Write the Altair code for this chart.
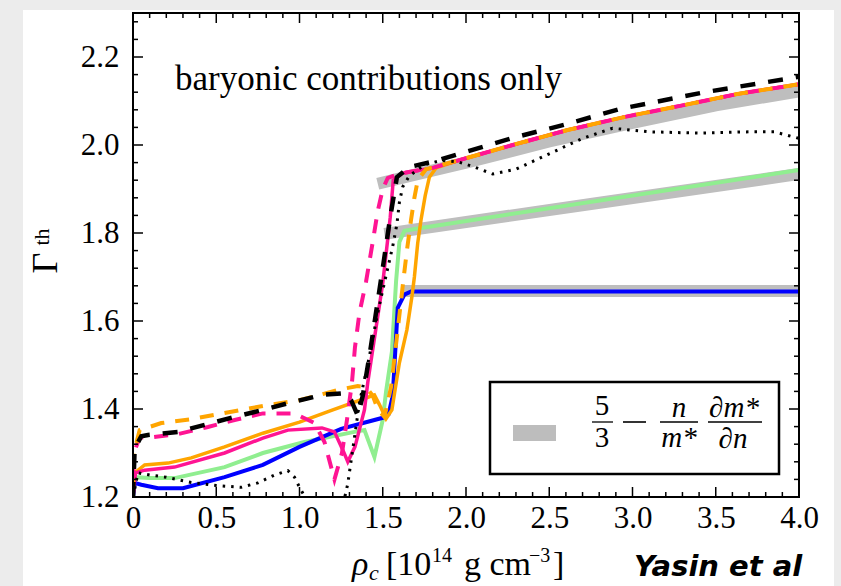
import altair as alt
import pandas as pd

# ---------------- data ----------------
# grey bands: 5/3 - (n/m*) dm*/dn
bandA_x = [1.47, 1.72, 2.0, 2.5, 3.0, 3.5, 4.0]
bandA_y = [1.912, 1.935, 1.96, 2.008, 2.05, 2.09, 2.122]
bandB_x = [1.51, 2.75, 4.0]
bandB_y = [1.798, 1.866, 1.934]
bandC_x = [1.615, 4.0]
bandC_y = [1.668, 1.668]

blue_x = [0.0, 0.01, 0.05, 0.15, 0.3, 0.55, 0.78, 1.0, 1.25, 1.5, 1.535, 1.56, 1.59, 1.63, 1.67, 4.0]
blue_y = [1.20, 1.232, 1.228, 1.220, 1.220, 1.245, 1.273, 1.314, 1.355, 1.38, 1.388, 1.43, 1.63, 1.66, 1.667, 1.667]

green_x = [0.0, 0.015, 0.1, 0.25, 0.55, 0.78, 1.03, 1.33, 1.39, 1.45, 1.50, 1.52, 1.555, 1.58, 1.60, 1.63, 1.72, 4.0]
green_y = [1.20, 1.245, 1.243, 1.243, 1.268, 1.30, 1.325, 1.348, 1.352, 1.291, 1.375, 1.44, 1.53, 1.69, 1.78, 1.805, 1.811, 1.943]

pinkS_x = [0.0, 0.015, 0.07, 0.25, 0.55, 0.78, 0.93, 1.135, 1.21, 1.26, 1.29, 1.333, 1.39, 1.41, 1.50, 1.545, 1.563, 1.62,
           1.80, 2.0, 2.28, 2.61, 2.955, 3.3, 3.63, 4.0]
pinkS_y = [1.20, 1.255, 1.261, 1.268, 1.30, 1.334, 1.352, 1.357, 1.348, 1.307, 1.28, 1.314, 1.398, 1.46, 1.686, 1.836, 1.92, 1.936,
           1.948, 1.97, 2.0, 2.034, 2.064, 2.09, 2.116, 2.138]

pinkD_x = [0.0, 0.005, 0.04, 0.115, 0.27, 0.45, 0.61, 0.78, 0.97, 1.09, 1.15, 1.195, 1.21, 1.255, 1.285, 1.315, 1.333, 1.36,
           1.40, 1.44, 1.47, 1.50, 1.53, 1.60, 1.80, 2.0, 2.28, 2.61, 2.955, 3.3, 3.63, 4.0]
pinkD_y = [1.20, 1.30, 1.335, 1.336, 1.343, 1.359, 1.375, 1.39, 1.39, 1.368, 1.325, 1.261, 1.24, 1.30, 1.375, 1.46, 1.54, 1.618,
           1.69, 1.78, 1.85, 1.90, 1.925, 1.935, 1.948, 1.97, 2.0, 2.034, 2.064, 2.09, 2.116, 2.138]

orS_x = [0.0, 0.01, 0.07, 0.21, 0.35, 0.55, 0.78, 1.0, 1.2, 1.40, 1.45, 1.48, 1.52, 1.555, 1.60, 1.645, 1.675, 1.69, 1.71,
         1.73, 1.755, 1.78, 1.82, 2.0, 2.28, 2.61, 2.955, 3.3, 3.63, 4.0]
orS_y = [1.20, 1.255, 1.273, 1.277, 1.289, 1.314, 1.345, 1.37, 1.398, 1.425, 1.432, 1.41, 1.378, 1.398, 1.505, 1.58, 1.655, 1.70, 1.777,
         1.83, 1.885, 1.927, 1.948, 1.97, 2.0, 2.034, 2.064, 2.09, 2.116, 2.138]

orD_x = [0.0, 0.005, 0.04, 0.17, 0.35, 0.55, 0.78, 1.0, 1.25, 1.35, 1.40, 1.44, 1.47, 1.51, 1.55, 1.59, 1.62, 1.645, 1.67, 1.69,
         1.71, 1.76, 2.0, 2.28, 2.61, 2.955, 3.3, 3.63, 4.0]
orD_y = [1.21, 1.30, 1.352, 1.368, 1.377, 1.391, 1.407, 1.42, 1.445, 1.452, 1.45, 1.43, 1.40, 1.382, 1.45, 1.58, 1.68, 1.76, 1.83, 1.88,
         1.92, 1.945, 1.97, 2.0, 2.034, 2.064, 2.09, 2.116, 2.138]

bkD_x = [0.0, 0.01, 0.05, 0.09, 0.27, 0.45, 0.61, 0.78, 0.93, 1.135, 1.27, 1.31, 1.35, 1.38, 1.42, 1.46, 1.50, 1.545, 1.585, 1.66,
         1.80, 1.96, 2.28, 2.61, 2.925, 3.435, 4.0]
bkD_y = [1.20, 1.31, 1.338, 1.341, 1.348, 1.366, 1.382, 1.398, 1.413, 1.432, 1.436, 1.42, 1.385, 1.43, 1.52, 1.62, 1.72, 1.836, 1.927, 1.95,
         1.962, 1.98, 2.016, 2.048, 2.082, 2.12, 2.155]

bkO_x = [0.0, 0.03, 0.1, 0.2, 0.35, 0.5, 0.65, 0.75, 0.85, 0.93, 0.97, 1.0, 1.04, 1.06, 1.26, 1.29, 1.36, 1.42, 1.465, 1.50, 1.53,
         1.56, 1.585, 1.60, 1.62, 1.66, 1.75, 1.85, 1.95, 2.05, 2.16, 2.3, 2.5, 2.7, 2.88, 3.1, 3.4, 3.7, 3.85, 4.0]
bkO_y = [1.20, 1.255, 1.25, 1.245, 1.233, 1.226, 1.222, 1.232, 1.25, 1.26, 1.245, 1.222, 1.195, 1.18, 1.18, 1.23, 1.414, 1.52, 1.61, 1.67, 1.72,
         1.77, 1.82, 1.87, 1.905, 1.93, 1.955, 1.965, 1.962, 1.95, 1.934, 1.945, 1.98, 2.015, 2.038, 2.03, 2.027, 2.03, 2.03, 2.015]

x_major = [0.0, 0.5, 1.0, 1.5, 2.0, 2.5, 3.0, 3.5, 4.0]
x_minor = [round(0.1 * i, 2) for i in range(41) if i % 5 != 0]
y_major = [1.2, 1.4, 1.6, 1.8, 2.0, 2.2]
y_minor = [round(1.2 + 0.04 * i, 2) for i in range(28) if i % 5 != 0]

# ---------------- chart ----------------
W, H = 666, 484
SERIF = "Liberation Serif"
xs = alt.Scale(domain=[0, 4.0], nice=False, zero=False)
ys = alt.Scale(domain=[1.2, 2.3], nice=False, zero=False)

x_axis = alt.Axis(values=x_major, labelExpr="datum.value == 0 ? '0' : format(datum.value, '.1f')",
                  labelFont=SERIF, labelFontSize=31, labelColor="black", domain=False, ticks=False,
                  grid=False, labelPadding=6, title=None, labelFlush=False, labelOverlap=False, zindex=5)
y_axis = alt.Axis(values=y_major, format=".1f", labelFont=SERIF, labelFontSize=31, labelColor="black",
                  domain=False, ticks=False, grid=False, labelPadding=14, title=None, labelFlush=False,
                  labelOverlap=False, zindex=5)

X = lambda: alt.X("x:Q", scale=xs, axis=x_axis)
Y = lambda: alt.Y("y:Q", scale=ys, axis=y_axis)

one = pd.DataFrame({"a": [0]})


def series(xv, yv, **mk):
    df = pd.DataFrame({"x": xv, "y": yv, "i": list(range(len(xv)))})
    return alt.Chart(df).mark_line(clip=True, **mk).encode(x=X(), y=Y(), order="i:Q")


def box(x1, x2, y1, y2, **mk):
    return alt.Chart(one).mark_rect(**mk).encode(
        x=alt.value(x1), x2=alt.value(x2), y=alt.value(y1), y2=alt.value(y2))


def txt(t, x, y, size, font=SERIF, align="left", baseline="alphabetic", **mk):
    return alt.Chart(one).mark_text(text=t, font=font, fontSize=size, align=align, baseline=baseline,
                                    color="black", **mk).encode(x=alt.value(x), y=alt.value(y))


def hbar(x1, x2, y, w=1.3):
    return alt.Chart(one).mark_rule(color="black", strokeWidth=w).encode(
        x=alt.value(x1), x2=alt.value(x2), y=alt.value(y), y2=alt.value(y))


layers = [box(-110, 701, -3, 573, color="white")]

GREY = "#bebebe"
layers += [series(bandA_x, bandA_y, color=GREY, strokeWidth=12),
           series(bandB_x, bandB_y, color=GREY, strokeWidth=12),
           series(bandC_x, bandC_y, color=GREY, strokeWidth=12)]

layers += [series(green_x, green_y, color="#90ee90", strokeWidth=4),
           series(blue_x, blue_y, color="#0000ff", strokeWidth=4),
           series(orS_x, orS_y, color="#ffa500", strokeWidth=3.5),
           series(pinkS_x, pinkS_y, color="#ff1493", strokeWidth=3.5),
           series(pinkD_x, pinkD_y, color="#ff1493", strokeWidth=4, strokeDash=[14, 11]),
           series(orD_x, orD_y, color="#ffa500", strokeWidth=4, strokeDash=[14, 11]),
           series(bkD_x, bkD_y, color="black", strokeWidth=4.5, strokeDash=[15, 13]),
           series(bkO_x, bkO_y, color="black", strokeWidth=3, strokeDash=[2.5, 6])]

# ticks (inward on all four sides)
def xticks(vals, length):
    df = pd.DataFrame({"x": vals})
    bot = alt.Chart(df).mark_rule(color="black", strokeWidth=1.5).encode(
        x=X(), y=alt.value(H), y2=alt.value(H - length))
    top = alt.Chart(df).mark_rule(color="black", strokeWidth=1.5).encode(
        x=X(), y=alt.value(0), y2=alt.value(length))
    return [bot, top]


def yticks(vals, length):
    df = pd.DataFrame({"y": vals})
    lft = alt.Chart(df).mark_rule(color="black", strokeWidth=1.5).encode(
        y=Y(), x=alt.value(0), x2=alt.value(length))
    rgt = alt.Chart(df).mark_rule(color="black", strokeWidth=1.5).encode(
        y=Y(), x=alt.value(W), x2=alt.value(W - length))
    return [lft, rgt]


layers += xticks(x_major, 10) + xticks(x_minor, 5) + yticks(y_major, 10) + yticks(y_minor, 5)
layers += [box(0, W, 0, H, fillOpacity=0, stroke="black", strokeWidth=2)]

# legend
layers += [box(357, 646, 369, 461, fill="white", stroke="black", strokeWidth=2.5),
           box(380, 423, 412, 428, color="#bdbdbd"),
           txt("5", 469, 402, 29, align="center"), hbar(459, 480, 409), txt("3", 469, 434, 29, align="center"),
           hbar(490, 513, 409, 1.6),
           txt("n", 546, 404, 29, align="center", fontStyle="italic"), hbar(527, 565, 409),
           txt("m*", 546, 434, 29, align="center", fontStyle="italic"),
           txt("\u2202m*", 601, 404, 29, align="center", fontStyle="italic"), hbar(575, 629, 409),
           txt("\u2202n", 600, 435, 29, align="center", fontStyle="italic")]

# annotation text
layers += [txt("baryonic contributions only", 42, 77, 35)]

# axis titles
layers += [txt("\u0393", -76, 250, 36, align="center", angle=270),
           txt("th", -84, 224, 22, align="center", angle=270),
           txt("\u03c1", 219, 562, 34, fontStyle="italic"),
           txt("c", 236, 567, 22, fontStyle="italic"),
           txt("[10", 253, 562, 34),
           txt("14", 299, 549, 20),
           txt("g cm", 331, 562, 34),
           txt("\u22123", 396, 549, 20),
           txt("]", 420, 562, 34)]

layers += [txt("Yasin et al", 501, 563, 29, font="DejaVu Sans", fontWeight="bold", fontStyle="italic")]

chart = alt.layer(*layers).properties(
    width=W, height=H,
    background="#ececec",
    padding={"left": 133, "top": 13, "right": 42, "bottom": 89},
    autosize=alt.AutoSizeParams(type="none"),
).configure_view(strokeWidth=0)

chart.save("out.html", embed_options={"renderer": "svg", "actions": False})
